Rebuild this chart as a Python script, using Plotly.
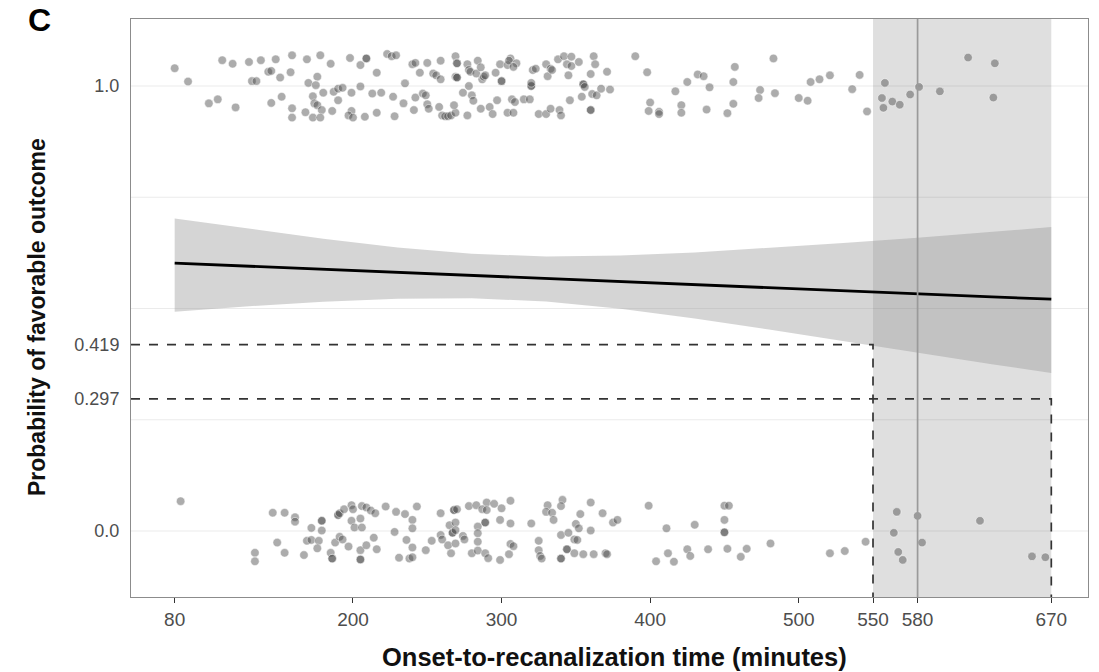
import plotly.graph_objects as go

# ---------------- data ----------------
# Favorable outcome (y jittered around 1)
upper_x = [80, 89, 112, 119, 130, 138, 148, 159, 169, 178, 185, 198, 209, 209, 205, 143, 145, 151, 158, 132,
           135, 170, 176, 175, 103, 109, 121, 145, 152, 159, 159, 168, 173, 174, 180, 176, 179, 173, 178, 186,
           187, 190, 193, 190, 199, 205, 199, 197, 200, 208, 213, 216, 216,
           219, 223, 226, 229, 227, 228, 234, 235, 240, 242, 242, 241, 245, 247, 249, 250, 250, 251, 254, 256,
           259, 259, 258, 260, 262, 264, 266, 269, 268, 269, 270, 270, 269, 270, 270, 274, 277, 278, 278, 279,
           280, 281, 277, 283, 284, 286, 287, 288, 289, 286, 292, 294, 296, 297, 300, 300, 299, 306, 304, 305,
           310, 308, 307, 304, 308, 309, 315, 319, 320, 320, 320, 321, 323, 325, 330, 333, 330, 331, 333, 334,
           338, 342, 344, 347, 347, 352, 345, 346, 339, 340, 355, 355, 356, 354, 361, 362, 363, 364, 360, 360,
           360, 367, 371, 373,
           390, 398, 400, 399, 406, 406, 417, 425, 421, 421, 432, 436, 440, 438, 452, 456, 456, 457, 474, 473,
           483, 484, 500, 506, 508, 514, 521, 536, 541, 546, 558, 556, 557, 563, 568, 575, 581, 595, 614, 632,
           631]
upper_y = [1.04, 1.01, 1.058, 1.05, 1.054, 1.058, 1.06, 1.069, 1.06, 1.069, 1.05, 1.063, 1.062, 1.062, 1.047,
           1.032, 1.034, 1.019, 1.031, 1.011, 1.011, 1.007, 1.021, 1.002, 0.961, 0.97, 0.952, 0.962, 0.976,
           0.95, 0.929, 0.941, 0.977, 0.961, 0.985, 0.957, 0.946, 0.929, 0.929, 0.944, 0.987, 0.994, 0.996,
           0.968, 0.985, 0.999, 0.944, 0.934, 0.929, 0.931, 0.983, 0.94, 1.03,
           0.985, 1.072, 1.067, 1.069, 0.976, 0.932, 0.961, 1.006, 1.049, 1.052, 0.974, 0.946, 1.03, 0.983,
           0.979, 1.052, 0.959, 0.949, 1.028, 1.024, 1.057, 1.015, 0.953, 0.934, 0.932, 0.932, 0.934, 0.94,
           0.957, 1.067, 1.051, 1.051, 1.021, 1.019, 1.019, 0.985, 1.049, 1.036, 1.0, 1.032, 0.979, 0.967,
           0.934, 1.028, 1.057, 1.042, 1.015, 1.021, 1.024, 0.949, 0.953, 0.937, 1.03, 0.968, 1.011, 1.011,
           1.049, 1.062, 1.047, 1.057, 1.051, 1.043, 0.97, 0.94, 0.94, 0.964, 0.97, 0.97, 1.0, 1.0, 1.007,
           1.036, 1.039, 0.937, 0.937, 0.949, 1.049, 1.022, 1.039, 1.036, 1.06, 1.067, 1.049, 1.066, 1.045,
           1.054, 1.024, 0.968, 0.946, 0.934, 1.004, 1.004, 0.998, 0.976, 0.982, 1.067, 1.049, 0.979, 0.946,
           0.946, 1.027, 0.994, 1.032, 0.992,
           1.067, 1.031, 0.963, 0.944, 0.942, 0.937, 0.988, 1.009, 0.957, 0.94, 1.026, 1.022, 0.997, 0.947,
           0.939, 0.96, 1.009, 1.043, 0.991, 0.973, 1.062, 0.984, 0.973, 0.967, 1.009, 1.015, 1.024, 0.993,
           1.025, 0.943, 1.007, 0.973, 0.951, 0.965, 0.958, 0.981, 0.998, 0.988, 1.064, 1.051, 0.974]

# Unfavorable outcome (y jittered around 0)
lower_x = [84, 146, 154, 161, 161, 134, 134, 149, 154, 167, 172, 169, 172, 177, 176, 179, 179, 179, 185, 186,
           186, 188, 191, 193, 190, 190, 191, 194, 199, 200, 206, 209, 212, 215, 199, 205, 201, 206, 197, 205,
           205, 205, 209, 214,
           222, 229, 235, 240, 243, 228, 240, 216, 236, 240, 231, 238, 240, 249, 253, 259, 268, 268, 270, 265,
           269, 267, 267, 269, 259, 260, 264, 266, 269, 274, 275, 278, 283, 290, 287, 290, 295, 289, 289, 284,
           284, 284, 280, 284, 289, 291, 300, 306, 299, 306, 306, 308, 299, 305, 320, 325, 325, 326, 327, 331,
           330, 334, 335, 341, 340, 340, 345, 350, 352, 353, 349, 351, 340, 340, 344, 344, 349, 355, 360, 360,
           362, 368, 370, 371, 375, 378,
           399, 411, 404, 412, 416, 425, 427, 430, 439, 450, 453, 450, 450, 450, 452, 461, 465, 481, 521, 531,
           545, 566, 580, 564, 583, 567, 570, 622, 657, 666]
lower_y = [0.067, 0.041, 0.041, 0.031, 0.021, -0.049, -0.068, -0.026, -0.049, -0.054, 0.007, -0.022, -0.02,
           -0.022, -0.039, 0.023, 0.023, 0.001, -0.049, -0.062, -0.062, -0.026, -0.013, -0.019, 0.036, 0.036,
           0.04, 0.049, 0.058, 0.049, 0.056, 0.053, 0.046, 0.04, 0.023, 0.028, 0.008, 0.008, -0.035, -0.043,
           -0.064, -0.064, -0.032, -0.015,
           0.055, 0.043, 0.038, 0.025, 0.055, -0.002, 0.006, -0.041, -0.02, -0.037, -0.06, -0.062, -0.059,
           -0.043, -0.022, 0.04, 0.047, 0.047, 0.049, 0.013, 0.019, -0.004, -0.004, 0.002, -0.009, -0.019,
           -0.032, -0.05, -0.028, -0.011, -0.019, 0.056, 0.058, 0.064, 0.049, 0.047, 0.061, 0.019, 0.019, 0.01,
           -0.005, -0.024, -0.05, -0.044, -0.05, -0.061, 0.051, 0.068, 0.025, 0.017, -0.029, -0.034, -0.065,
           -0.052, 0.017, -0.022, -0.043, -0.056, -0.062, 0.058, 0.043, 0.041, 0.025, 0.07, 0.056, -0.009,
           -0.004, 0.016, 0.006, 0.038, -0.019, -0.02, -0.062, -0.062, -0.041, -0.041, -0.05, -0.052, 0.064,
           0.001, -0.052, 0.04, -0.05, -0.052, 0.019, 0.025,
           0.057, 0.006, -0.068, -0.05, -0.069, -0.041, -0.056, 0.014, -0.041, 0.057, 0.057, 0.025, -0.003,
           -0.003, -0.04, -0.058, -0.04, -0.028, -0.05, -0.045, -0.024, 0.043, 0.034, -0.004, -0.026, -0.047,
           -0.065, 0.023, -0.057, -0.059]

# Logistic fit with 95% CI
band_x = [80, 130, 180, 230, 280, 330, 380, 430, 480, 530, 580, 630, 670]
band_fit = [0.602, 0.595, 0.588, 0.581, 0.574, 0.567, 0.560, 0.553, 0.546, 0.539, 0.532, 0.526, 0.521]
band_upper = [0.702, 0.679, 0.657, 0.637, 0.623, 0.617, 0.619, 0.626, 0.636, 0.647, 0.659, 0.672, 0.683]
band_lower = [0.493, 0.505, 0.515, 0.522, 0.523, 0.516, 0.4995, 0.4775, 0.453, 0.427, 0.400, 0.375, 0.355]

# Reference cut-offs
cut_x = [550, 670]
cut_p = [0.419, 0.297]
shade_x = [550, 670]
median_x = 580

x_ticks = [80, 200, 300, 400, 500, 550, 580, 670]
y_ticks = [0.0, 0.297, 0.419, 1.0]
y_ticktext = ["0.0", "0.297", "0.419", "1.0"]
grid_y = [0.0, 0.25, 0.5, 0.75, 1.0]

x_range = [50.6, 694.7]
y_range = [-0.1483, 1.1506]

FONT = "Liberation Sans, Arial, Helvetica, sans-serif"

fig = go.Figure()

# CI band
fig.add_trace(go.Scatter(x=band_x, y=band_upper, mode="lines", line=dict(width=0),
                         hoverinfo="skip", showlegend=False))
fig.add_trace(go.Scatter(x=band_x, y=band_lower, mode="lines", line=dict(width=0),
                         fill="tonexty", fillcolor="rgba(150,150,150,0.40)",
                         hoverinfo="skip", showlegend=False))
# fitted line
fig.add_trace(go.Scatter(x=band_x, y=band_fit, mode="lines",
                         line=dict(color="black", width=2.8), showlegend=False))

# jittered points
fig.add_trace(go.Scatter(x=upper_x + lower_x, y=upper_y + lower_y, mode="markers",
                         marker=dict(size=8.5, color="rgba(70,70,70,0.45)",
                                     line=dict(width=0.8, color="rgba(255,255,255,0.6)")),
                         showlegend=False))

# dashed cut-off lines
for cx, cp in zip(cut_x, cut_p):
    fig.add_trace(go.Scatter(x=[x_range[0], cx, cx], y=[cp, cp, y_range[0]], mode="lines",
                             line=dict(color="#333333", width=1.7, dash="dash"),
                             showlegend=False, cliponaxis=False))

shapes = []
for gy in grid_y:
    shapes.append(dict(type="line", xref="paper", x0=0, x1=1, yref="y", y0=gy, y1=gy,
                       line=dict(color="#ebebeb", width=1.2), layer="below"))
shapes.append(dict(type="rect", xref="x", x0=shade_x[0], x1=shade_x[1], yref="paper", y0=0, y1=1,
                   fillcolor="rgba(0,0,0,0.125)", line=dict(width=0), layer="below"))
shapes.append(dict(type="line", xref="x", x0=median_x, x1=median_x, yref="paper", y0=0, y1=1,
                   line=dict(color="#9a9a9a", width=1.7), layer="above"))

annotations = [
    dict(text="<b>Probability of favorable outcome</b>", xref="paper", yref="paper",
         x=-0.0982, y=0.4844, xanchor="center", yanchor="middle", textangle=-90,
         showarrow=False, font=dict(family=FONT, size=23, color="#111111")),
    dict(text="<b>Onset-to-recanalization time (minutes)</b>", xref="paper", yref="paper",
         x=0.5057, y=-0.1038, xanchor="center", yanchor="middle",
         showarrow=False, font=dict(family=FONT, size=25.5, color="#111111")),
    dict(text="<b>C</b>", xref="paper", yref="paper", x=-0.0961, y=0.998,
         xanchor="center", yanchor="middle", showarrow=False,
         font=dict(family=FONT, size=32, color="#000000")),
]

fig.update_layout(
    width=1099, height=672,
    margin=dict(l=131, r=11, t=19, b=75),
    paper_bgcolor="white", plot_bgcolor="white",
    font=dict(family=FONT),
    shapes=shapes, annotations=annotations,
    showlegend=False,
    xaxis=dict(range=x_range, tickmode="array", tickvals=x_ticks,
               ticks="outside", ticklen=5, tickwidth=1.2, tickcolor="#333333",
               tickfont=dict(family=FONT, size=19, color="#4d4d4d"),
               showgrid=False, zeroline=False,
               showline=True, mirror=True, linecolor="#8c8c8c", linewidth=1),
    yaxis=dict(range=y_range, tickmode="array", tickvals=y_ticks, ticktext=y_ticktext,
               ticks="outside", ticklen=7, tickcolor="rgba(0,0,0,0)",
               tickfont=dict(family=FONT, size=18, color="#4d4d4d"),
               showgrid=False, zeroline=False,
               showline=True, mirror=True, linecolor="#8c8c8c", linewidth=1),
)

fig.write_html("out.html")
